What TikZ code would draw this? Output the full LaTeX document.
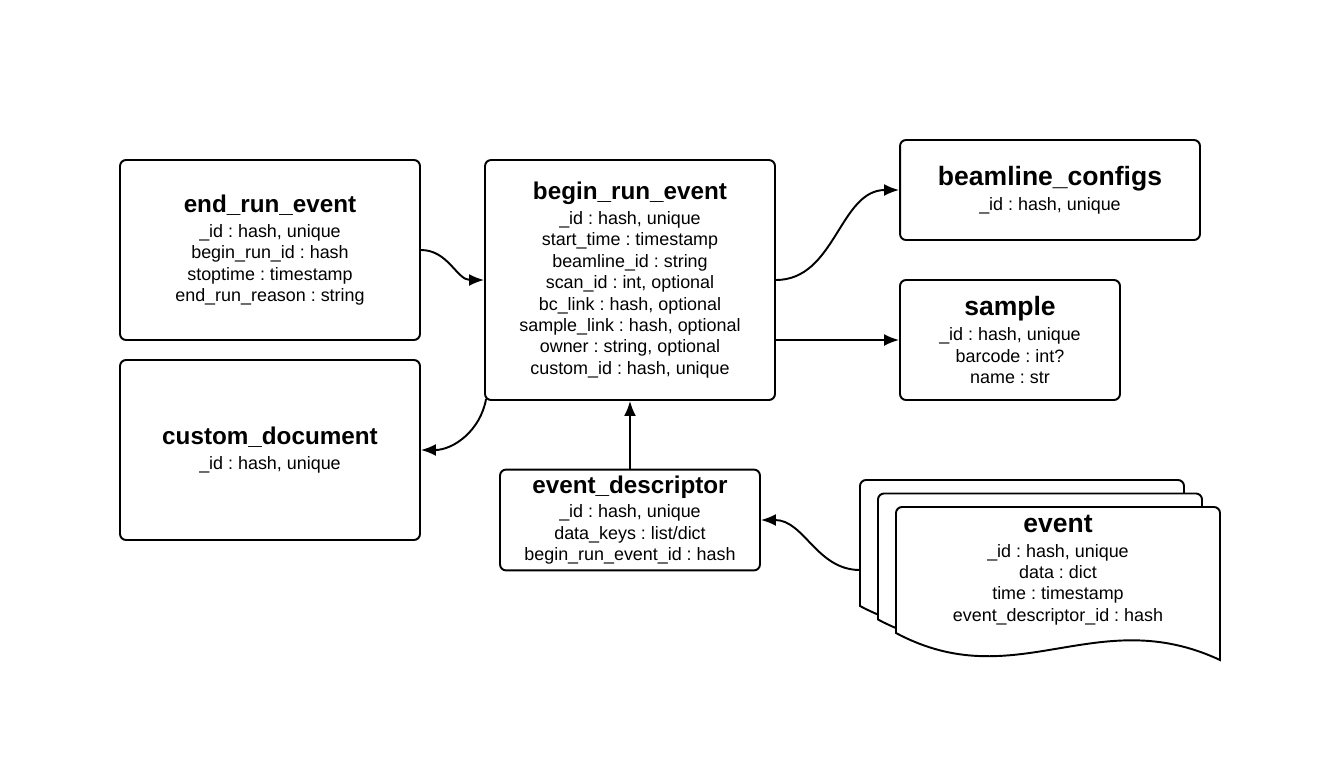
\documentclass[tikz,border=0pt]{standalone}
\usepackage{fontspec}
\setmainfont{Liberation Sans}
\usetikzlibrary{arrows.meta,positioning}
\newcommand{\ttl}[2][13.8]{{\fontsize{#1}{16}\selectfont\bfseries #2}\\[2pt]}

\begin{document}
\begin{tikzpicture}[x=0.02cm, y=-0.02cm, >={Latex[length=3mm,width=2.4mm]},
  every node/.style={font=\fontsize{10.2}{12.2}\selectfont\frenchspacing, align=center},
  entity/.style={draw, line width=1.1pt, rounded corners=0.12cm},
  conn/.style={->, line width=1.1pt},
  page/.style={draw, fill=white, line width=1.1pt}]
\useasboundingbox (0,0) rectangle (1320,765);

% tables
\node[entity, minimum width=6cm, minimum height=3.6cm] (endrun) at (270,250)
  {\ttl{end\_run\_event}\_id : hash, unique\\begin\_run\_id : hash\\stoptime : timestamp\\end\_run\_reason : string};
\node[entity, minimum width=6cm, minimum height=3.6cm] (customdoc) at (270,450)
  {\ttl{custom\_document}\_id : hash, unique};
\node[entity, minimum width=5.8cm, minimum height=4.8cm] (beginrun) at (630,280)
  {\ttl{begin\_run\_event}\_id : hash, unique\\start\_time : timestamp\\beamline\_id : string\\scan\_id : int, optional\\bc\_link : hash, optional\\sample\_link : hash, optional\\owner : string, optional\\custom\_id : hash, unique};
\node[entity, minimum width=6cm, minimum height=2cm] (beamline) at (1050,190)
  {\ttl[15.1]{beamline\_configs}\_id : hash, unique};
\node[entity, minimum width=4.4cm, minimum height=2.4cm] (sample) at (1010,340)
  {\ttl[15.1]{sample}\_id : hash, unique\\barcode : int?\\name : str};
\node[entity, minimum width=5.2cm, minimum height=2cm] (evdesc) at (630,520)
  {\ttl{event\_descriptor}\_id : hash, unique\\data\_keys : list/dict\\begin\_run\_event\_id : hash};

% stacked event pages
\foreach \dx/\dy in {860/480,878/493.5,896/507}
  \draw[page, shift={(\dx,\dy)}] (0,126) [rounded corners=0.12cm] -- (0,0) -- (324,0) -- (324,126)
    [sharp corners] -- (324,153) .. controls (200,95) and (120,190) .. (0,126) -- cycle;
\node (ev) at (1058,570)
  {\ttl[15.1]{event}\_id : hash, unique\\data : dict\\time : timestamp\\event\_descriptor\_id : hash};
\coordinate (evleft) at (860,570);

% links
\draw[conn] (endrun.east) to[out=0,in=180] (beginrun.west);
\draw[conn] (beginrun.east) to[out=0,in=180] (beamline.west);
\draw[conn] (beginrun.east |- sample.west) -- (sample.west);
\draw[conn] ([shift={(2,-2)}]beginrun.south west) to[out=-100,in=0] (customdoc.east);
\draw[conn] (evdesc.north) -- (beginrun.south);
\draw[conn] (evleft) to[out=180,in=0] (evdesc.east);
\end{tikzpicture}
\end{document}
